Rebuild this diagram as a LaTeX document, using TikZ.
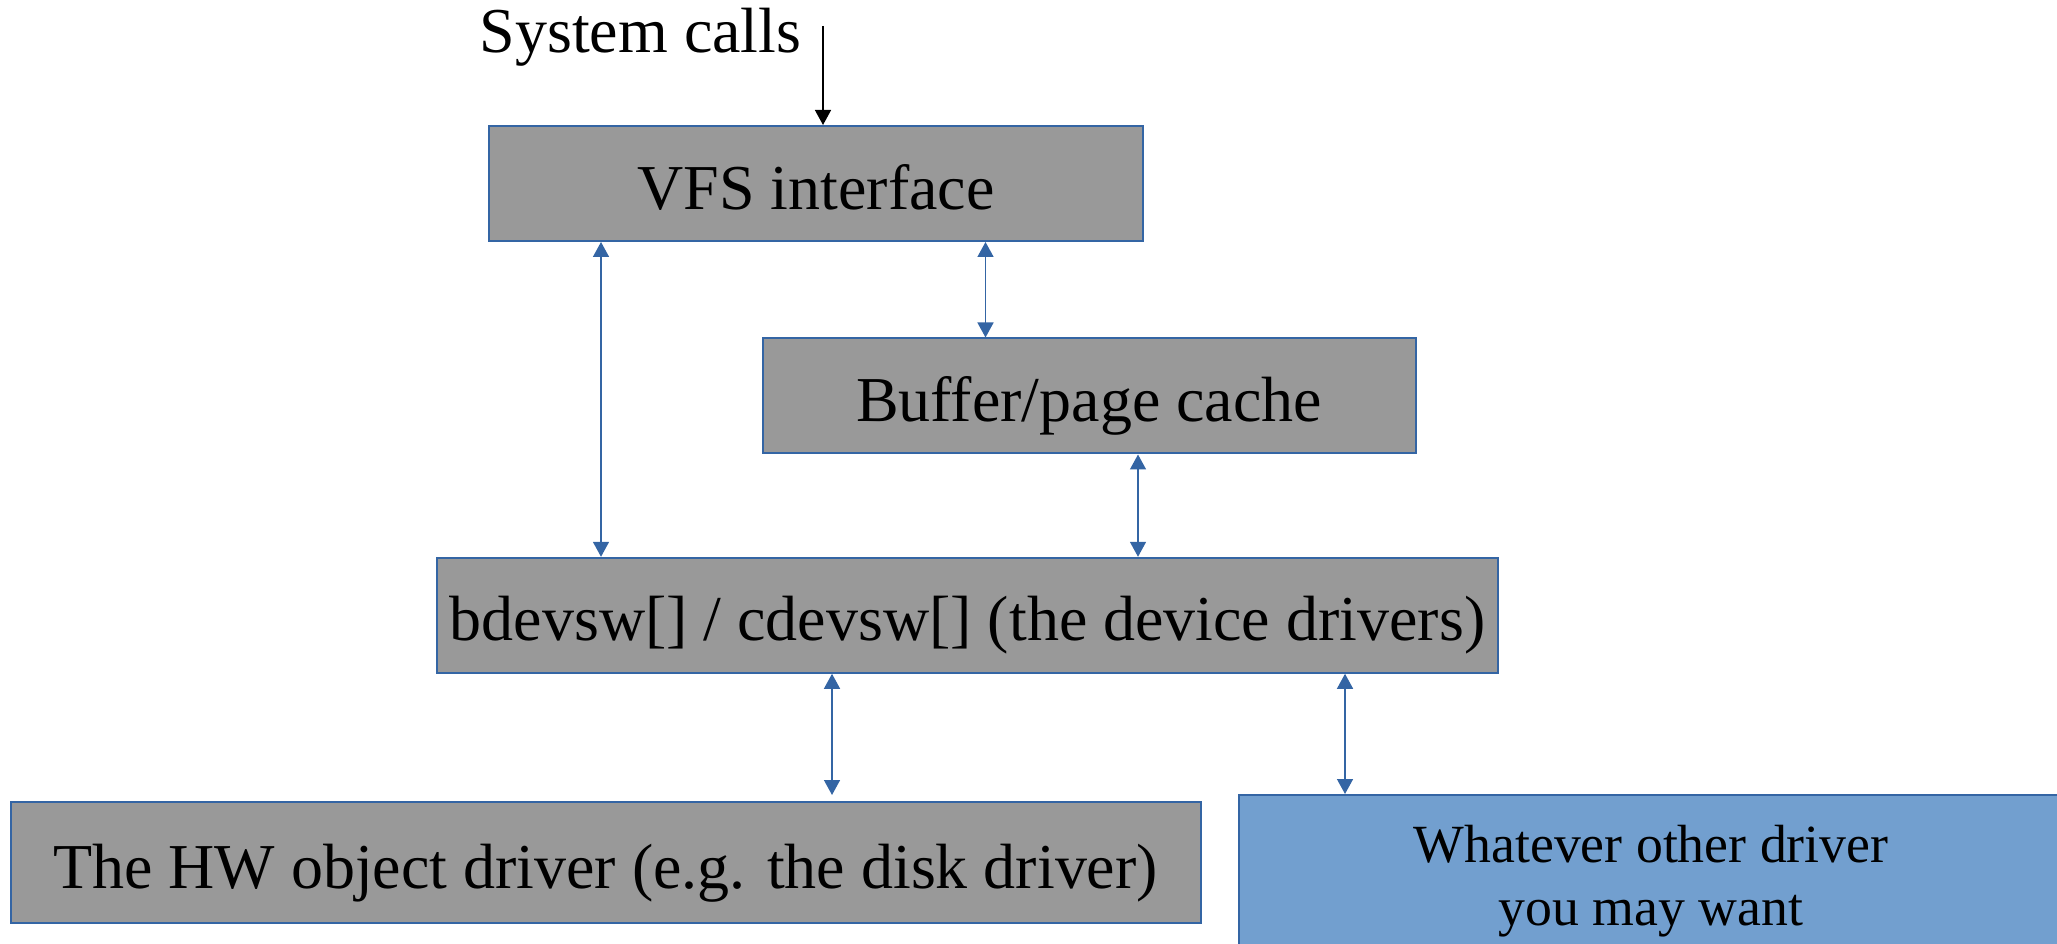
\documentclass[tikz,border=0pt]{standalone}
\usepackage{fontspec}
\setmainfont{Liberation Serif}
\usetikzlibrary{arrows.meta}
\definecolor{boxgray}{HTML}{999999}
\definecolor{lineblue}{HTML}{3465A4}
\definecolor{fillblue}{HTML}{729FCF}
\tikzset{
 layer/.style={draw=lineblue, fill=boxgray, line width=0.2mm, inner sep=0pt,
  minimum height=11.5mm, text height=14.6pt, text depth=0pt,
  font=\fontsize{18.2}{22}\selectfont},
 link/.style={<->, draw=lineblue, line width=0.15mm},
}
\begin{document}
\begin{tikzpicture}[x=0.1mm,y=-0.1mm,>={Triangle[length=1.5mm,width=1.6mm]}]
 \clip (0,0) rectangle (2057,944);
 % the layers
 \node[layer,minimum width=65.4mm] (vfs) at (816,183.5) {VFS interface};
 \node[layer,minimum width=65.3mm] (cache) at (1089,396) {Buffer/page cache};
 \node[layer,minimum width=106.1mm] (dev) at (967.5,615.3) {bdevsw[] / cdevsw[] (the device drivers)};
 \node[layer,minimum width=119mm,minimum height=12.1mm] (hw) at (605.5,862.5) {The HW object driver (e.g. the disk driver)};
 \node[layer,fill=fillblue,minimum width=82.4mm,minimum height=16.2mm,align=center,
  text height=27.9pt,text depth=0pt,
  font=\fontsize{15.3}{17.9}\selectfont] (other) at (1651,876) {Whatever other driver\\you may want};
 % entry
 \node[anchor=base east,inner sep=0pt,font=\fontsize{18.2}{22}\selectfont] (sys) at (802,53) {System calls};
 \coordinate (sysin) at (823,26);
 \draw[->,line width=0.15mm] (sysin) -- (sysin |- vfs.north);
 % links between layers
 \draw[link] (601,0 |- vfs.south) -- (601,0 |- dev.north);
 \draw[link] (985.5,0 |- vfs.south) -- (985.5,0 |- cache.north);
 \draw[link] (1138,0 |- cache.south) -- (1138,0 |- dev.north);
 \draw[link,shorten >=0.6mm] (832,0 |- dev.south) -- (832,0 |- hw.north);
 \draw[link] (1345,0 |- dev.south) -- (1345,0 |- other.north);
\end{tikzpicture}
\end{document}
